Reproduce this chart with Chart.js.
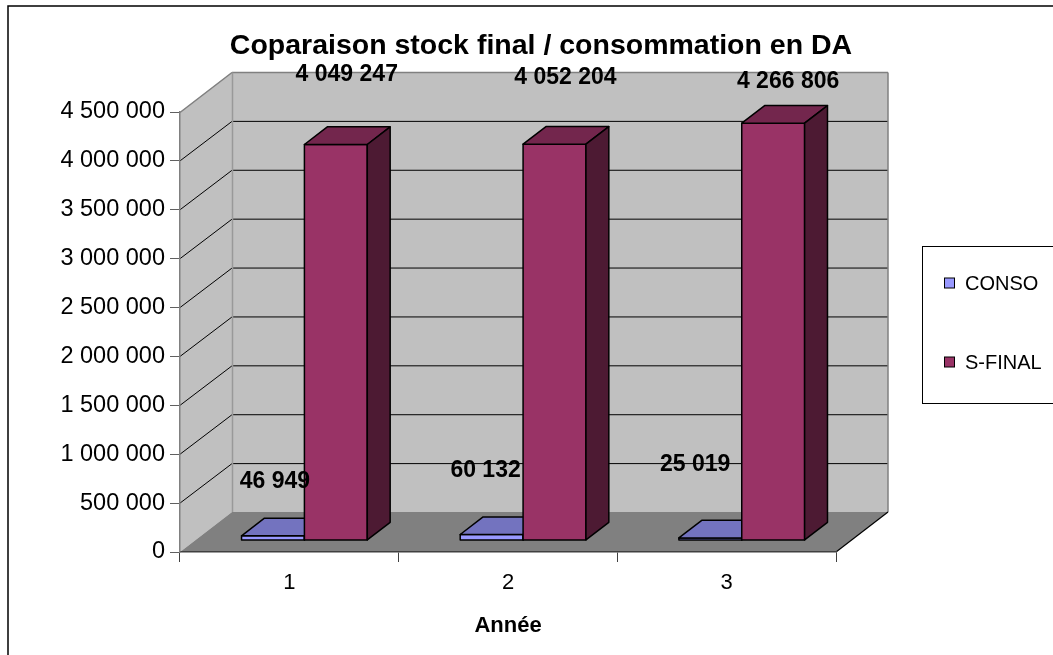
<!DOCTYPE html>
<html>
<head>
<meta charset="utf-8">
<script src="https://cdn.jsdelivr.net/npm/chart.js@4.4.1/dist/chart.umd.min.js"></script>
<style>
  html, body { margin: 0; padding: 0; background: #fff; }
  #wrap { width: 1053px; height: 655px; }
</style>
</head>
<body>
<div id="wrap"><canvas id="chart" width="1053" height="655"></canvas></div>
<script>
// --- données --- //
const years = ['1', '2', '3'];
const consoValues = [46949, 60132, 25019];
const finalValues = [4049247, 4052204, 4266806];
const seriesNames = ['CONSO', 'S-FINAL'];
const yMax = 4500000;
const yStep = 500000;

const FONT = '"Liberation Sans", Arial, sans-serif';
const DEPTH = { x: 52, y: -40 };      // profondeur du plancher / mur du fond
const BAR_DEPTH = [0.29, 0.73];        // position des barres dans la profondeur

// décalage des étiquettes (Excel 3D les place un peu n'importe où)
const labelNudge = [
    [[17, -66], [9, -75], [0, -85]],
    [[26, -81], [26, -78], [30, -53]]
];

const fmt = v => Math.round(v).toString().replace(/\B(?=(\d{3})+(?!\d))/g, ' ');

function shade(hex, f) {
    const n = parseInt(hex.slice(1), 16);
    const r = Math.round(((n >> 16) & 255) * f);
    const g = Math.round(((n >> 8) & 255) * f);
    const b = Math.round((n & 255) * f);
    return `rgb(${r},${g},${b})`;
}

function poly(ctx, pts, fill, stroke, lw) {
    ctx.beginPath();
    ctx.moveTo(pts[0][0], pts[0][1]);
    for (let i = 1; i < pts.length; i++) ctx.lineTo(pts[i][0], pts[i][1]);
    ctx.closePath();
    if (fill) { ctx.fillStyle = fill; ctx.fill(); }
    if (stroke) { ctx.strokeStyle = stroke; ctx.lineWidth = lw || 1; ctx.stroke(); }
}

function line(ctx, x1, y1, x2, y2, color, lw) {
    ctx.beginPath();
    ctx.moveTo(x1, y1);
    ctx.lineTo(x2, y2);
    ctx.strokeStyle = color;
    ctx.lineWidth = lw || 1;
    ctx.stroke();
}

// --- plugin: murs, barres 3D, étiquettes, légende --- //
const excel3d = {
    id: 'excel3d',
    beforeDraw(chart) {
        const ctx = chart.ctx;
        const { left, right, top, bottom } = chart.chartArea;
        const ys = chart.scales.y;
        const dx = DEPTH.x, dy = DEPTH.y;
        ctx.save();
        ctx.fillStyle = '#fff';
        ctx.fillRect(0, 0, chart.width, chart.height);

        // mur gauche
        poly(ctx, [[left, top], [left + dx, top + dy], [left + dx, bottom + dy], [left, bottom]], '#C0C0C0');
        // mur du fond
        poly(ctx, [[left + dx, top + dy], [right + dx, top + dy], [right + dx, bottom + dy], [left + dx, bottom + dy]], '#C0C0C0');
        // plancher
        poly(ctx, [[left, bottom], [right, bottom], [right + dx, bottom + dy], [left + dx, bottom + dy]], '#808080');

        // quadrillage
        ys.ticks.forEach(t => {
            if (t.value === 0 || t.value === yMax) return;
            const y = ys.getPixelForValue(t.value) + 0.5;
            line(ctx, left, y - 0.5, left + dx, y + dy, '#000', 1);
            line(ctx, left + dx, y + dy, right + dx, y + dy, '#000', 1);
        });

        // arêtes
        const yt = ys.getPixelForValue(yMax) + 0.5;
        line(ctx, left, yt, left + dx, yt + dy, '#808080', 1.5);
        line(ctx, left + dx, yt + dy, right + dx, yt + dy, '#808080', 1.5);
        line(ctx, right + dx, yt + dy, right + dx, bottom + dy, '#808080', 1.5);
        line(ctx, left + dx + 0.5, yt + dy, left + dx + 0.5, bottom + dy, '#999', 1.5);
        line(ctx, right, bottom, right + dx, bottom + dy, '#000', 1.2);

        // cadre extérieur
        ctx.strokeStyle = '#000';
        ctx.lineWidth = 1.5;
        ctx.strokeRect(8, 6, chart.width + 20, chart.height + 20);
        ctx.restore();
    },
    beforeDatasetsDraw(chart) {
        const ctx = chart.ctx;
        const f0x = DEPTH.x * BAR_DEPTH[0], f0y = DEPTH.y * BAR_DEPTH[0];
        const f1x = DEPTH.x * BAR_DEPTH[1], f1y = DEPTH.y * BAR_DEPTH[1];
        ctx.save();
        ctx.lineJoin = 'round';
        chart.data.datasets.forEach((ds, di) => {
            const meta = chart.getDatasetMeta(di);
            meta.data.forEach(el => {
                const { x, y, base, width } = el.getProps(['x', 'y', 'base', 'width'], true);
                const l = x - width / 2, r = x + width / 2;
                const col = ds.backgroundColor;
                // face avant
                poly(ctx, [[l + f0x, y + f0y], [r + f0x, y + f0y], [r + f0x, base + f0y], [l + f0x, base + f0y]], col, '#000', 1.5);
                // dessus
                poly(ctx, [[l + f0x, y + f0y], [r + f0x, y + f0y], [r + f1x, y + f1y], [l + f1x, y + f1y]], shade(col, 0.75), '#000', 1.5);
                // côté
                poly(ctx, [[r + f0x, y + f0y], [r + f1x, y + f1y], [r + f1x, base + f1y], [r + f0x, base + f0y]], shade(col, 0.5), '#000', 1.5);
            });
        });
        ctx.restore();
        return false;
    },
    afterDraw(chart) {
        const ctx = chart.ctx;
        ctx.save();
        // étiquettes de valeurs
        ctx.fillStyle = '#000';
        ctx.font = `bold 23px ${FONT}`;
        ctx.textAlign = 'center';
        ctx.textBaseline = 'middle';
        chart.data.datasets.forEach((ds, di) => {
            chart.getDatasetMeta(di).data.forEach((el, i) => {
                const n = labelNudge[di][i];
                ctx.fillText(fmt(ds.data[i]), el.x + n[0], el.y + n[1]);
            });
        });

        // titre
        ctx.font = `bold 28.5px ${FONT}`;
        ctx.fillText('Coparaison stock final / consommation en DA', 541, 46);

        // légende
        ctx.strokeStyle = '#000';
        ctx.lineWidth = 1;
        ctx.strokeRect(922.5, 246.5, 200, 157);
        ctx.font = `20px ${FONT}`;
        ctx.textAlign = 'left';
        const legendY = [283, 362];
        chart.data.datasets.forEach((ds, di) => {
            ctx.fillStyle = ds.backgroundColor;
            ctx.fillRect(944.5, legendY[di] - 5, 10, 10);
            ctx.strokeRect(944.5, legendY[di] - 5, 10, 10);
            ctx.fillStyle = '#000';
            ctx.fillText(ds.label, 965, legendY[di] + 1);
        });
        ctx.restore();
    }
};

Chart.defaults.color = '#000';
Chart.defaults.font.family = FONT;

new Chart(document.getElementById('chart'), {
    type: 'bar',
    data: {
        labels: years,
        datasets: [
            { label: seriesNames[0], data: consoValues, backgroundColor: '#9999FF' },
            { label: seriesNames[1], data: finalValues, backgroundColor: '#993366' }
        ]
    },
    options: {
        responsive: false,
        animation: false,
        categoryPercentage: 0.575,
        barPercentage: 1,
        layout: { padding: { top: 112, right: 217, left: 0, bottom: 0 } },
        plugins: {
            legend: { display: false },
            title: { display: false },
            tooltip: { enabled: false }
        },
        scales: {
            x: {
                grid: { drawOnChartArea: false, tickLength: 10, color: '#404040', offset: true },
                border: { color: '#404040', width: 1.5 },
                ticks: { font: { size: 22 }, padding: 8 },
                title: { display: true, text: 'Année', font: { size: 22, weight: 'bold' }, padding: { top: 0, bottom: 16 } },
                afterFit(scale) { scale.height = 103; }
            },
            y: {
                min: 0,
                max: yMax,
                grid: { drawOnChartArea: false, tickLength: 10, color: '#606060' },
                border: { color: '#808080', width: 1.5 },
                ticks: { stepSize: yStep, font: { size: 23.5 }, padding: 5, callback: v => fmt(v) },
                afterFit(scale) { scale.width = 180; }
            }
        }
    },
    plugins: [excel3d]
});
</script>
</body>
</html>
